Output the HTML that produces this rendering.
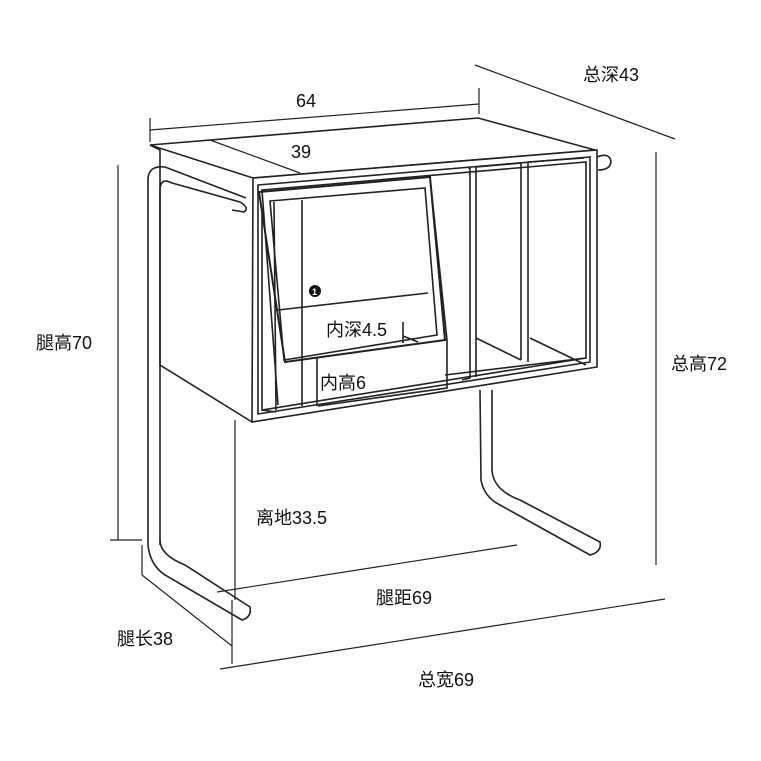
<!DOCTYPE html>
<html><head><meta charset="utf-8"><style>
html,body{margin:0;padding:0;background:#fff;}
svg{display:block}
text{font-family:"Liberation Sans","Noto Sans CJK SC",sans-serif;font-size:18px;fill:#111;}
</style></head><body>
<svg width="761" height="761" viewBox="0 0 761 761" fill="none" stroke="#222" stroke-width="1.6">
<g stroke-width="1.2">
<line x1="150" y1="130" x2="479" y2="104"/>
<line x1="150" y1="118" x2="150" y2="142"/>
<line x1="479" y1="88" x2="479" y2="114"/>
<line x1="475" y1="65" x2="675" y2="139"/>
<line x1="656" y1="152" x2="656" y2="565"/>
<line x1="118" y1="165" x2="118" y2="540"/>
<line x1="110" y1="540" x2="142" y2="540"/>
<line x1="142" y1="545" x2="142" y2="575"/>
<line x1="142" y1="575" x2="232" y2="646"/>
<line x1="232" y1="600" x2="232" y2="664"/>
<line x1="220" y1="669" x2="665" y2="599"/>
<line x1="217" y1="592" x2="517" y2="545"/>
<line x1="235" y1="420" x2="235" y2="600"/>
</g>
<polygon points="150,145 478,118 595,150 253,178" fill="#fff"/>
<line x1="210" y1="140" x2="300" y2="173" stroke-width="1.2"/>
<polyline points="150,145 160,150 160,365 252,422"/>
<polygon points="253,178 597,150 597,367 252,422" fill="#fff"/>
<polygon points="258,185 590,157 590,362 258,414"/>
<polygon points="262,190 586,162 586,358 262,410"/>
<polyline points="468,168 470,168 470,378 462,380"/>
<polyline points="476,167 476,377"/>
<polyline points="476,167 521,163 521,360"/>
<polyline points="528,162 528,362"/>
<polyline points="528,162 584,158"/>
<line x1="476" y1="338" x2="521" y2="360"/>
<line x1="530" y1="338" x2="586" y2="365"/>
<line x1="445" y1="375" x2="586" y2="358"/>
<polygon points="259,192 430,177 445,340 285,362" fill="#fff" stroke-width="2"/>
<polygon points="270,201 425,188 437,335 284,360"/>
<line x1="274" y1="202" x2="276" y2="410"/>
<line x1="302" y1="200" x2="302" y2="406"/>
<line x1="317" y1="357" x2="317" y2="406"/>
<line x1="262" y1="410" x2="276" y2="412"/>
<polyline points="262,190 278,405"/>
<polyline points="430,177 447,340 447,388 318,406"/>
<line x1="278" y1="310" x2="428" y2="293"/>
<line x1="403" y1="322" x2="403" y2="343"/>
<line x1="403" y1="336" x2="418" y2="342"/>
<circle cx="315" cy="291" r="6" fill="#111" stroke="none"/>
<text x="312" y="295" style="font-size:9px;fill:#fff;font-weight:bold" stroke="none">1</text>
<path d="M160,545 L160,190 Q160,177 172,183 L240,202 Q250,208 244,212 L232,210" />
<path d="M148,545 L148,180 Q148,165 165,167 L246,198" />
<path d="M148,545 Q150,565 165,575 L242,620 Q252,617 250,607 L185,565 Q160,555 160,540"/>
<path d="M480,390 L481,480 Q484,497 500,505 L590,555 Q602,552 600,542 L520,500 Q493,490 492,470 L492,390"/>
<path d="M597,157 Q610,152 611,162 Q610,170 598,170"/>
<g stroke="none">
<text x="296" y="107">64</text>
<text x="291" y="158">39</text>
<text x="583" y="81">总深43</text>
<text x="671" y="370">总高72</text>
<text x="36" y="349">腿高70</text>
<text x="326" y="336">内深4.5</text>
<text x="320" y="389">内高6</text>
<text x="256" y="524">离地33.5</text>
<text x="376" y="604">腿距69</text>
<text x="117" y="645">腿长38</text>
<text x="418" y="686">总宽69</text>
</g>
</svg>
</body></html>
